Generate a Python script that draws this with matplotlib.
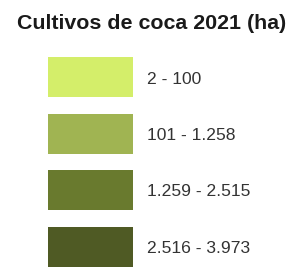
import matplotlib
matplotlib.use("Agg")
import matplotlib.pyplot as plt

title = "Cultivos de coca 2021 (ha)"
labels = ["2 - 100", "101 - 1.258", "1.259 - 2.515", "2.516 - 3.973"]
colors = ["#d4ee6a", "#a0b452", "#697a2e", "#4f5a24"]

W, H = 292, 267
fig = plt.figure(figsize=(W / 100, H / 100), dpi=100)
ax = fig.add_axes([0, 0, 1, 1])
ax.set_xlim(0, W)
ax.set_ylim(H, 0)
ax.axis("off")

top0, step, bh = 57, 56.5, 40
ys = [top0 + i * step + bh / 2 for i in range(len(labels))]
ax.barh(ys, [85] * len(labels), left=48, height=bh, color=colors, edgecolor="none")
for y, lab in zip(ys, labels):
    ax.text(147, y + 2, lab, fontsize=12.6, family="Liberation Sans", color="#333333",
            va="center", ha="left")
ax.text(151.5, 23.5, title, fontsize=15.4, family="Liberation Sans", fontweight="bold",
        color="#1a1a1a", ha="center", va="center")

fig.savefig("out.png", dpi=100)
